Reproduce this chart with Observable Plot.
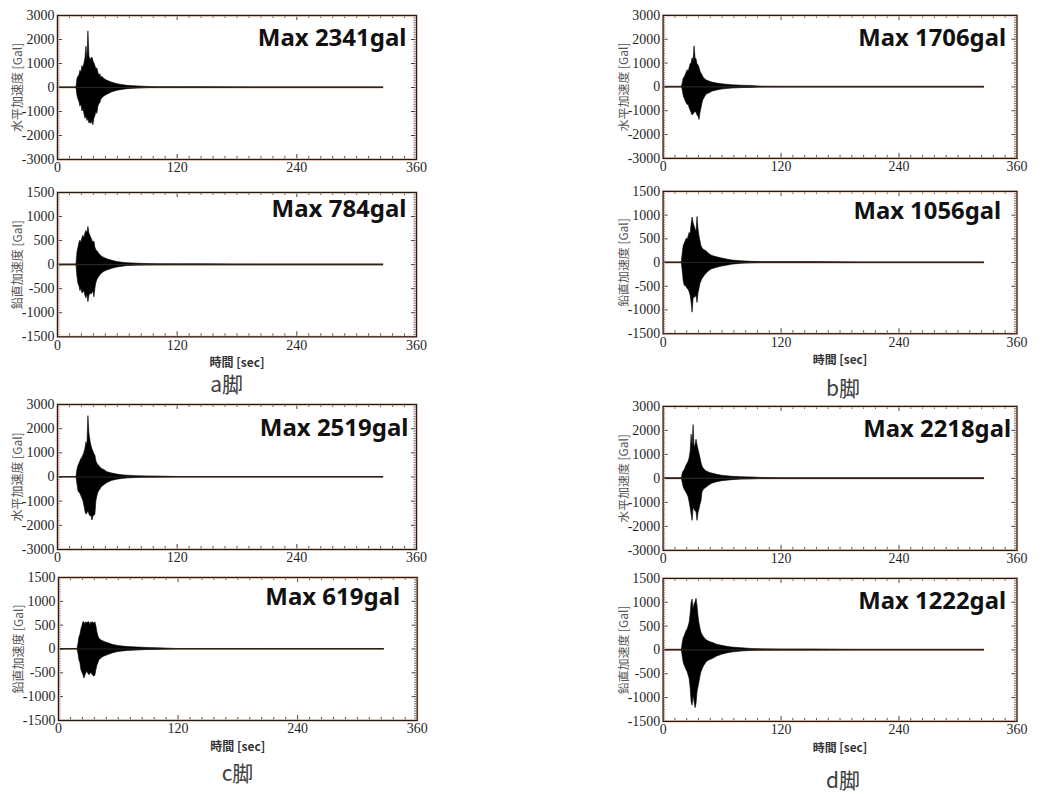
<!DOCTYPE html>
<html>
<head>
<meta charset="utf-8">
<script src="https://cdn.jsdelivr.net/npm/d3@7"></script>
<script src="https://cdn.jsdelivr.net/npm/@observablehq/plot@0.6"></script>
<style>
  html, body { margin: 0; padding: 0; background: #fff; }
  #root { position: relative; width: 1040px; height: 794px; overflow: hidden; background: #fff; }
  .panel { position: absolute; }
  .panel svg text.tk { font-family: "Liberation Serif", "Times New Roman", "DejaVu Serif", serif !important; }
  .caption { position: absolute; transform: translate(-50%, -50%); font-family: "Noto Sans CJK JP", "Noto Sans", sans-serif; font-size: 21px; line-height: 1; color: #404040; white-space: nowrap; }
</style>
</head>
<body>
<div id="root"></div>
<script>
// ---------------- data ----------------
// common time knots of the envelopes [sec]
const T = [0,19, 20,21,22,23,24,25,26,27,28,29,30,31,32,33,34,35,36,37,38,39,40,41,42,43,44,45, 47,50,55,60,65,70,80,90,100,120,150,200,327];
const END_T = 327;                 // end of the record [sec]
const xTicks = [0, 120, 240, 360];
const yTicksH = [-3000, -2000, -1000, 0, 1000, 2000, 3000];
const yTicksV = [-1500, -1000, -500, 0, 500, 1000, 1500];
const legs = ["a", "b", "c", "d"];
const maxH = [2341, 1706, 2519, 2218];   // horizontal maxima [gal]
const maxV = [784, 1056, 619, 1222];     // vertical maxima [gal]
const labelH = "水平加速度 [Gal]";
const labelV = "鉛直加速度 [Gal]";
const labelX = "時間 [sec]";

// upper / lower envelopes of each record [gal]
const aH_hi = [0,0, 350,450,500,700,600,900,800,1000,1200,1700,1100,2341,1300,1150,1200,1250,1100,1000,900,750,800,600,500,550,400,450, 350,280,200,140,100,70,45,25,15,15,15,0,0];
const aH_lo = [0,0, -350,-500,-600,-800,-700,-1000,-900,-1100,-1300,-1200,-1400,-1300,-1500,-1450,-1520,-1400,-1570,-1300,-1200,-1000,-1100,-800,-700,-650,-500,-450, -380,-300,-200,-140,-100,-70,-45,-25,-15,-15,-15,0,0];
const aV_hi = [0,0, 250,350,450,500,450,550,600,550,650,700,650,784,650,600,550,500,450,480,350,300,280,250,220,200,180,160, 140,110,80,55,40,30,20,12,10,8,8,0,0];
const aV_lo = [0,0, -250,-400,-450,-550,-500,-600,-580,-550,-650,-700,-620,-780,-650,-600,-620,-600,-550,-680,-500,-380,-320,-280,-250,-220,-200,-180, -150,-120,-85,-60,-45,-30,-20,-12,-10,-8,-8,0,0];
const bH_hi = [0,0, 150,350,400,500,600,700,650,800,950,1000,1200,1100,1706,1200,1150,950,900,800,650,550,500,400,350,320,280,260, 230,180,140,110,90,70,50,40,10,0,0,0,0];
const bH_lo = [0,0, -150,-400,-500,-600,-700,-760,-750,-900,-1000,-1100,-1200,-1150,-1100,-1050,-1100,-1200,-1250,-1390,-1100,-900,-700,-550,-490,-400,-350,-300, -280,-200,-150,-110,-90,-70,-50,-40,-10,0,0,0,0];
const bV_hi = [0,0, 200,350,400,450,500,480,550,625,600,800,950,830,760,700,650,960,700,555,450,350,300,280,260,250,240,220, 180,140,110,85,65,45,25,15,10,10,10,0,0];
const bV_lo = [0,0, -200,-400,-490,-500,-520,-555,-580,-625,-700,-850,-1056,-760,-740,-730,-700,-850,-650,-555,-450,-400,-350,-320,-290,-260,-240,-220, -180,-140,-110,-85,-65,-45,-25,-15,-10,-10,-10,0,0];
const cH_hi = [0,0, 300,460,550,650,740,800,900,1000,1160,1440,1300,2519,1800,1500,1300,1160,1050,950,880,650,550,500,450,400,350,320, 290,200,140,100,70,55,35,25,20,0,0,0,0];
const cH_lo = [0,0, -300,-590,-650,-700,-800,-900,-1000,-1200,-1420,-1560,-1500,-1420,-1550,-1630,-1600,-1800,-1650,-1600,-1560,-1000,-800,-650,-580,-520,-450,-400, -340,-250,-160,-110,-80,-60,-35,-25,-20,0,0,0,0];
const cV_hi = [0,0, 100,240,300,410,480,560,560,520,560,540,560,560,500,560,540,560,520,560,480,350,270,220,200,180,170,160, 140,120,85,65,50,40,30,20,15,0,0,0,0];
const cV_lo = [0,0, -100,-240,-300,-445,-500,-550,-619,-560,-510,-480,-520,-550,-530,-500,-540,-560,-580,-560,-445,-350,-300,-240,-220,-200,-185,-170, -150,-125,-90,-65,-50,-40,-30,-20,-15,0,0,0,0];
const dH_hi = [0,0, 200,300,345,450,550,620,700,850,1100,1820,1300,2218,1240,1400,1610,1380,1200,1030,850,650,500,420,380,330,300,280, 240,200,150,110,90,70,50,40,20,0,0,0,0];
const dH_lo = [0,0, -200,-380,-480,-550,-620,-690,-800,-1000,-1240,-1500,-1770,-1240,-1300,-1380,-1400,-1770,-1450,-1300,-1100,-970,-600,-500,-450,-420,-400,-360, -300,-220,-160,-120,-95,-75,-50,-40,-20,0,0,0,0];
const dV_hi = [0,0, 150,250,290,350,400,430,500,570,750,985,1055,850,950,1000,1070,915,700,550,450,360,320,280,255,230,210,195, 170,150,110,85,65,50,35,20,12,10,10,0,0];
const dV_lo = [0,0, -150,-280,-330,-380,-430,-470,-540,-610,-800,-1100,-1170,-960,-1100,-1222,-1130,-890,-780,-680,-560,-470,-420,-370,-330,-300,-270,-250, -220,-195,-140,-100,-75,-55,-35,-20,-12,-10,-10,0,0];

// ---------------- layout ----------------
const ML = 57, MT = 15, MR = 24, MB = 45;
const panels = [
  {leg: 0, comp: "H", hi: aH_hi, lo: aH_lo, L: 57,    R: 416,  T: 15,    B: 159, dx: -10, dy: 30},
  {leg: 0, comp: "V", hi: aV_hi, lo: aV_lo, L: 57,    R: 416,  T: 191.7, B: 336, dx: -10, dy: 24.5},
  {leg: 1, comp: "H", hi: bH_hi, lo: bH_lo, L: 662.7, R: 1019, T: 15,    B: 159, dx: -11, dy: 30.7},
  {leg: 1, comp: "V", hi: bV_hi, lo: bV_lo, L: 662.7, R: 1019, T: 190.7, B: 334, dx: -16, dy: 28},
  {leg: 2, comp: "H", hi: cH_hi, lo: cH_lo, L: 57,    R: 416,  T: 404,   B: 549, dx: -8,  dy: 31.7},
  {leg: 2, comp: "V", hi: cV_hi, lo: cV_lo, L: 58,    R: 416.7,T: 577,   B: 720, dx: -17, dy: 28},
  {leg: 3, comp: "H", hi: dH_hi, lo: dH_lo, L: 662.7, R: 1019, T: 406,   B: 551, dx: -6,  dy: 30.7},
  {leg: 3, comp: "V", hi: dV_hi, lo: dV_lo, L: 662.7, R: 1019, T: 578,   B: 722, dx: -11, dy: 31}
];
const captions = [
  {x: 226.7, y: 382.5}, {x: 843, y: 387}, {x: 237.5, y: 772}, {x: 843, y: 779}
];

const root = document.getElementById("root");
const SERIF = "Liberation Serif";

function range(a, b, s) { return d3.range(a, b + s / 2, s); }

panels.forEach(p => {
  if (p.hi.length !== T.length || p.lo.length !== T.length) throw new Error("length mismatch " + p.leg + p.comp);
  const W = p.R - p.L, H = p.B - p.T;
  const isH = p.comp === "H";
  const yMajor = isH ? yTicksH : yTicksV;
  const yDom = [yMajor[0], yMajor[yMajor.length - 1]];
  const yMinor = range(yDom[0], yDom[1], isH ? 100 : 50).filter(v => !yMajor.includes(v));
  const xMinor = range(0, 360, 12).filter(v => !xTicks.includes(v));
  const data = T.map((t, i) => ({t, hi: p.hi[i], lo: p.lo[i]}));
  const tk = "#2a2a2a";
  const maxLabel = "Max " + (isH ? maxH[p.leg] : maxV[p.leg]) + "gal";
  const marks = [
    Plot.ruleY([0], {x1: () => 0, x2: () => END_T, stroke: "#f3b89e", strokeWidth: 2.2}),
    Plot.areaY(data, {x: "t", y1: "lo", y2: "hi", fill: "#000", stroke: "#000", strokeWidth: 0.6}),
    Plot.ruleY([0], {x1: () => 0, x2: () => END_T, stroke: "#262626", strokeWidth: 1.1}),
    // inward minor / major ticks on all four sides
    Plot.tickY(yMinor, {y: d => d, insetRight: W - 2.5, stroke: tk, strokeWidth: 0.7}),
    Plot.tickY(yMinor, {y: d => d, insetLeft: W - 2.5, stroke: tk, strokeWidth: 0.7}),
    Plot.tickY(yMajor, {y: d => d, insetRight: W - 5, stroke: tk, strokeWidth: 0.9}),
    Plot.tickY(yMajor, {y: d => d, insetLeft: W - 5, stroke: tk, strokeWidth: 0.9}),
    Plot.tickX(xMinor, {x: d => d, insetTop: H - 3, stroke: tk, strokeWidth: 0.8}),
    Plot.tickX(xMinor, {x: d => d, insetBottom: H - 3, stroke: tk, strokeWidth: 0.8}),
    Plot.tickX(xTicks, {x: d => d, insetTop: H - 5, stroke: tk, strokeWidth: 0.9}),
    Plot.tickX(xTicks, {x: d => d, insetBottom: H - 5, stroke: tk, strokeWidth: 0.9}),
    Plot.frame({stroke: "#f5c2aa", strokeWidth: 2.4}),
    Plot.frame({stroke: "#1e1e1e", strokeWidth: 1.2}),
    Plot.axisX({ticks: xTicks, tickSize: 0, tickPadding: 3, label: null, fontSize: 14,
      fontFamily: SERIF, tickFormat: d => String(d), className: "tkx"}),
    Plot.axisY({ticks: yMajor, tickSize: 0, tickPadding: 3, label: null, fontSize: 14,
      fontFamily: SERIF, tickFormat: d => String(d), className: "tky"}),
    Plot.text([isH ? labelH : labelV], {text: d => d, frameAnchor: "left", textAnchor: "middle",
      lineAnchor: "middle", rotate: -90, dx: -39, fontSize: 12, fill: "#555", fontFamily: "Noto Sans CJK JP"}),
    Plot.text([maxLabel], {text: d => d, frameAnchor: "top-right", textAnchor: "end", lineAnchor: "bottom",
      dx: p.dx, dy: p.dy, fontSize: 24, fontWeight: "bold", fill: "#111", fontFamily: "Noto Sans"})
  ];
  if (!isH) {
    marks.push(Plot.text([labelX], {text: d => d, frameAnchor: "bottom", textAnchor: "middle",
      lineAnchor: "middle", dy: 26.5, fontSize: 12, fontWeight: "bold", fill: "#333", fontFamily: "Noto Sans CJK JP"}));
  }
  const chart = Plot.plot({
    width: ML + W + MR, height: MT + H + MB,
    marginLeft: ML, marginRight: MR, marginTop: MT, marginBottom: MB,
    x: {domain: [0, 360]},
    y: {domain: yDom},
    style: {fontFamily: SERIF, fontSize: "14px", color: "#1f1f1f",
      background: "transparent", overflow: "visible"},
    marks
  });
  // make sure the axis tick labels use the serif face
  chart.querySelectorAll("g[aria-label='x-axis tick label'] text, g[aria-label='y-axis tick label'] text")
    .forEach(t => t.classList.add("tk"));
  chart.querySelectorAll("g[aria-label='x-axis tick label'], g[aria-label='y-axis tick label']")
    .forEach(g => g.setAttribute("font-family", SERIF));
  const div = document.createElement("div");
  div.className = "panel";
  div.style.left = (p.L - ML) + "px";
  div.style.top = (p.T - MT) + "px";
  div.appendChild(chart);
  root.appendChild(div);
});

captions.forEach((c, i) => {
  const d = document.createElement("div");
  d.className = "caption";
  d.style.left = c.x + "px";
  d.style.top = c.y + "px";
  d.textContent = legs[i] + "脚";
  root.appendChild(d);
});
</script>
</body>
</html>
